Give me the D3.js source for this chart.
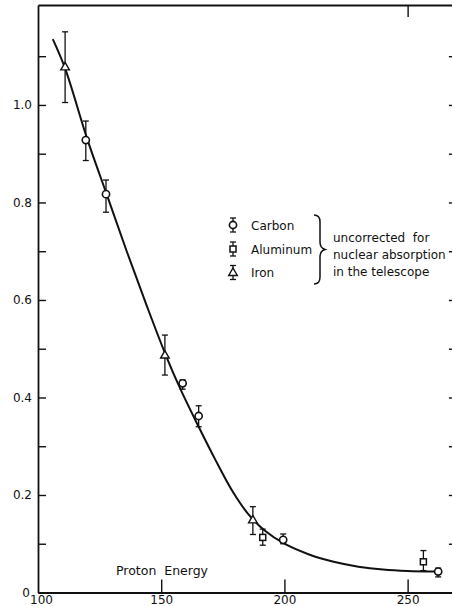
<!DOCTYPE html>
<html>
<head>
<meta charset="utf-8">
<script src="https://cdn.jsdelivr.net/npm/d3@7/dist/d3.min.js"></script>
<style>
  html, body { margin: 0; padding: 0; background: #fff; }
  svg { display: block; }
  text { font-family: "DejaVu Sans", sans-serif; fill: #111; }
</style>
</head>
<body>
<script>
// ---- data ----
const curveEnergy = [106, 111, 120, 128, 136, 144, 152, 158, 165, 172, 179, 185, 192, 200, 210, 220, 230, 240, 250, 261];
const curveValue  = [1.135, 1.075, 0.93, 0.815, 0.70, 0.59, 0.485, 0.415, 0.342, 0.272, 0.207, 0.163, 0.127, 0.100, 0.078, 0.063, 0.053, 0.047, 0.044, 0.043];

const carbonEnergy = [119.4, 127.6, 158.7, 165.2, 199.5, 262.4];
const carbonValue  = [0.928, 0.817, 0.429, 0.362, 0.108, 0.043];
const carbonHigh   = [0.967, 0.846, 0.436, 0.383, 0.120, 0.050];
const carbonLow    = [0.886, 0.780, 0.417, 0.340, 0.100, 0.032];

const aluminumEnergy = [191.2, 256.4];
const aluminumValue  = [0.113, 0.063];
const aluminumHigh   = [0.130, 0.086];
const aluminumLow    = [0.097, 0.045];

const ironEnergy = [111.0, 151.5, 187.2];
const ironValue  = [1.078, 0.487, 0.149];
const ironHigh   = [1.150, 0.528, 0.176];
const ironLow    = [1.005, 0.446, 0.119];

const xTickValues = [100, 150, 200, 250];
const xTickLabels = ["100", "150", "200", "250"];
const yTickValues = [0, 0.1, 0.2, 0.3, 0.4, 0.5, 0.6, 0.7, 0.8, 0.9, 1.0, 1.1];
const yTickLabels = ["0", "", "0.2", "", "0.4", "", "0.6", "", "0.8", "", "1.0", ""];

const legendNames = ["Carbon", "Aluminum", "Iron"];
const noteLines = ["uncorrected  for", "nuclear absorption", "in the telescope"];
const xTitle = "Proton  Energy";

// ---- layout ----
const W = 452, H = 606;
const svg = d3.select("body").append("svg").attr("width", W).attr("height", H);

const x = d3.scaleLinear().domain([100, 270]).range([38, 456.9]);
const y = d3.scaleLinear().domain([0, 1.205]).range([592.5, 5]);
const ink = "#111";

// axes
const gL = svg.append("g").attr("transform", `translate(${x(100)},0)`)
  .call(d3.axisLeft(y).tickValues(yTickValues).tickSize(-8).tickSizeOuter(0).tickPadding(6)
    .tickFormat((d, i) => yTickLabels[i]));
const gB = svg.append("g").attr("transform", `translate(0,${y(0)})`)
  .call(d3.axisBottom(x).tickValues(xTickValues).tickSize(-13).tickSizeOuter(0).tickPadding(3)
    .tickFormat((d, i) => xTickLabels[i]));
const gT = svg.append("g").attr("transform", `translate(0,${y(1.205)})`)
  .call(d3.axisTop(x).tickValues([250]).tickSize(-12).tickSizeOuter(0).tickFormat(""));
const gR = svg.append("g").attr("transform", `translate(${x(270)},0)`)
  .call(d3.axisRight(y).tickValues(yTickValues).tickSize(-8).tickSizeOuter(0).tickFormat(""));

[gL, gB, gT, gR].forEach(g => {
  g.selectAll("path.domain").attr("stroke", ink).attr("stroke-width", 1.8);
  g.selectAll(".tick line").attr("stroke", ink).attr("stroke-width", 1.4);
  g.selectAll(".tick text").attr("fill", ink).style("font-family", "DejaVu Sans, sans-serif").style("font-size", "12px");
});
gB.selectAll(".tick").filter(d => d === 100).select("line").remove();
gB.selectAll(".tick").filter(d => d === 100).select("text").attr("dx", 3);
gL.selectAll(".tick").filter(d => d === 0).select("text").attr("dx", -2);

// fitted curve
const line = d3.line().x((d, i) => x(curveEnergy[i])).y(d => y(d)).curve(d3.curveCatmullRom.alpha(0.5));
svg.append("path").attr("d", line(curveValue))
  .attr("fill", "none").attr("stroke", ink).attr("stroke-width", 2);

// marker helpers
function errorBar(g, cx, yHi, yLo) {
  g.append("line").attr("x1", cx).attr("x2", cx).attr("y1", yHi).attr("y2", yLo)
    .attr("stroke", ink).attr("stroke-width", 1.3);
  [yHi, yLo].forEach(yy => g.append("line").attr("x1", cx - 3).attr("x2", cx + 3)
    .attr("y1", yy).attr("y2", yy).attr("stroke", ink).attr("stroke-width", 1.3));
}
function marker(g, kind, cx, cy) {
  if (kind === "circle") {
    g.append("circle").attr("cx", cx).attr("cy", cy).attr("r", 3.6)
      .attr("fill", "#fff").attr("stroke", ink).attr("stroke-width", 1.6);
  } else if (kind === "square") {
    g.append("rect").attr("x", cx - 3).attr("y", cy - 3).attr("width", 6).attr("height", 6)
      .attr("fill", "#fff").attr("stroke", ink).attr("stroke-width", 1.5);
  } else {
    g.append("path").attr("d", `M${cx},${cy - 4.5}L${cx + 4.3},${cy + 3}L${cx - 4.3},${cy + 3}Z`)
      .attr("fill", "#fff").attr("stroke", ink).attr("stroke-width", 1.4);
  }
}

const series = [
  {kind: "circle", e: carbonEnergy, v: carbonValue, hi: carbonHigh, lo: carbonLow},
  {kind: "square", e: aluminumEnergy, v: aluminumValue, hi: aluminumHigh, lo: aluminumLow},
  {kind: "triangle", e: ironEnergy, v: ironValue, hi: ironHigh, lo: ironLow}
];
const gp = svg.append("g");
series.forEach(s => {
  s.e.forEach((e, i) => {
    errorBar(gp, x(e), y(s.hi[i]), y(s.lo[i]));
    marker(gp, s.kind, x(e), y(s.v[i]));
  });
});

// legend
const lg = svg.append("g");
const legY = [225, 249, 272.5];
series.forEach((s, i) => {
  errorBar(lg, 233, legY[i] - 7, legY[i] + 7);
  marker(lg, s.kind, 233, legY[i]);
  lg.append("text").attr("x", 251).attr("y", legY[i] + 4.5).style("font-size", "12px").text(legendNames[i]);
});
// brace
lg.append("path")
  .attr("d", "M314,215 Q320,215 320,222 L320,242 Q320,248 325,249.5 Q320,251 320,257 L320,277 Q320,284 314,284")
  .attr("fill", "none").attr("stroke", ink).attr("stroke-width", 1.5);
noteLines.forEach((t, i) => {
  lg.append("text").attr("x", 333).attr("y", 242 + i * 16.8).style("font-size", "12px")
    .style("white-space", "pre").attr("xml:space", "preserve").text(t);
});

// axis title
svg.append("text").attr("x", 116).attr("y", 575).style("font-size", "12.5px")
  .attr("xml:space", "preserve").style("white-space", "pre").text(xTitle);
</script>
</body>
</html>
